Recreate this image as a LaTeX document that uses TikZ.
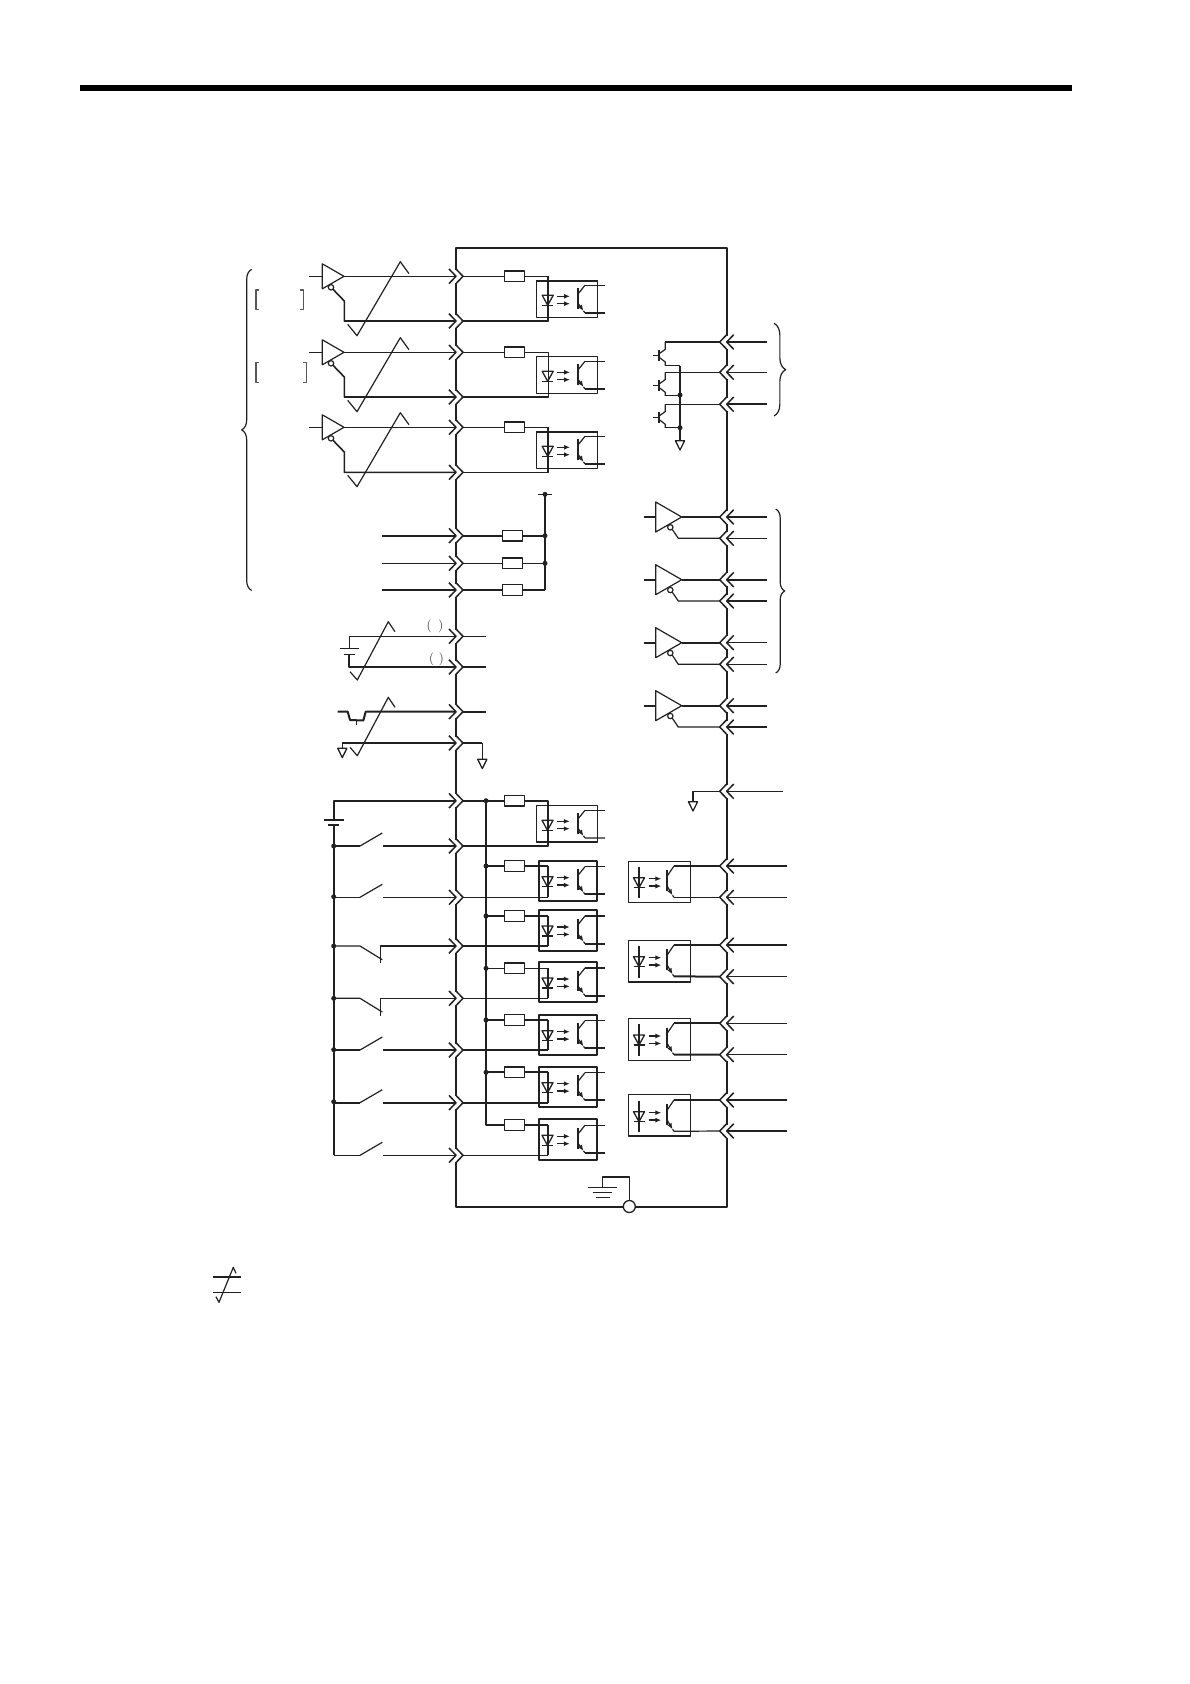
\documentclass[tikz,border=0pt]{standalone}
\usetikzlibrary{arrows.meta, decorations.pathreplacing}
\definecolor{ink}{gray}{0.13}
\tikzset{
	wire/.style={line width=1.2pt},
	heavy/.style={line width=2pt},
	res/.style={draw, rectangle, line width=1.3pt, minimum width=20pt, minimum height=10.6pt, inner sep=0pt, fill=white},
	dot/.style={circle, fill=ink, minimum size=5pt, inner sep=0pt},
	tip/.style={-{Latex[length=6pt, width=5pt]}},
	bracemark/.style={decorate, line width=1.2pt},
	pics/chevin/.style={code={
		\draw[white, line width=3pt] (0,-6.5) -- (0,6.5);
		\draw[line width=1.5pt] (-7,-7.3) -- (0,0) -- (-7,7.3) (0,-7.3) -- (7,0) -- (0,7.3);
		\coordinate (-ext) at (0,0);
		\coordinate (-in) at (7,0);
	}},
	pics/chevout/.style={code={
		\draw[white, line width=3pt] (0,-6.5) -- (0,6.5);
		\draw[line width=1.5pt] (7,-7.3) -- (0,0) -- (7,7.3) (0,-7.3) -- (-7,0) -- (0,7.3);
		\coordinate (-ext) at (0,0);
		\coordinate (-in) at (-7,0);
	}},
	pics/gnd/.style={code={
		\draw[line width=1.3pt] (-4.6,0) -- (4.6,0) -- (0,9.3) -- cycle;
	}},
	pics/led/.style={code={
		\draw[line width=1.3pt] (-5.5,-10) -- (5.5,-10) -- (0,0) -- cycle;
		\draw[line width=1.5pt] (-5.5,0) -- (5.5,0);
		\draw[tip, line width=1.4pt] (9.6,-9) -- (22.3,-9);
		\draw[tip, line width=1.4pt] (9.6,-1.6) -- (22.3,-1.6);
	}},
	pics/phototr/.style n args={2}{code={
		\draw[line width=1.7pt] (0,-17.4) -- (0,3.3);
		\draw (0,-11) -- (7.3,#1);
		\draw[tip] (0,-2.5) -- (5.8,#2-2);
		\draw (5.8,#2-2) -- (7.3,#2);
		\coordinate (-c) at (7.3,#1);
		\coordinate (-e) at (7.3,#2);
	}},
	pics/npn/.style={code={
		\draw (0,0) -- (0,7.3) -- (-6.6,12);
		\draw[line width=1.7pt] (-6.6,8) -- (-6.6,18.7);
		\draw (-12,13.3) -- (-6.6,13.3);
		\draw (-6.6,15) -- (0,20) -- (0,23.5);
		\coordinate (-e) at (0,23.5);
	}},
}
\begin{document}
\begin{tikzpicture}[x=1pt, y=-1pt, line width=1.2pt, color=ink, line join=round]
	\useasboundingbox (0,0) rectangle (1190,1684);
	\fill[black] (79.6,85) rectangle (1072,90.5);
	% unit frame
	\draw[line width=1.9pt] (456,248) -- (726.7,248) -- (726.7,1207) -- (456,1207) -- cycle;

	% line receivers with twisted pairs
	\foreach \n/\y/\z in {a/276.3/321, b/352.3/397, c/427.3/472.3} {
		\pic (\n1) at (456,\y) {chevin};
		\pic (\n2) at (456,\z) {chevin};
		\draw (309,\y) -- (322.3,\y);
		\draw (322.3,\y-12.5) -- (344,\y) -- (322.3,\y+12.5) -- cycle;
		\draw[fill=white] (331,\y+11) circle (2.7);
		\draw (344,\y) -- (\n1-ext);
		\draw[line width=1.6pt] (333,\y+13) -- (344.3,\y+24.7) -- (344.3,\z) -- (\n2-ext);
		\draw (347.7,\y+48) -- (357,\y+59.4) -- (400.3,\y-14.6) -- (409,\y-2.6);
		\node[res] (r\n) at (514.5,\y) {};
		\draw (\n1-in) -- (r\n);
		\draw (r\n) -- (548.3,\y) -- (548.3,\z) -- (\n2-in);
		\draw (536.3,\y+4.4) rectangle (597.7,\z-3.7);
		\pic at (547.7,\y+29) {led};
		\pic (t\n) at (577.7,\y+29) {phototr={-20}{7.6}};
		\draw (t\n-c) -- (605,\y+9);
		\draw[heavy] (t\n-e) -- (605,\y+36.6);
	}
	\draw[heavy] (536.3,280.7) -- (597.7,280.7) (548.3,276.3) -- (548.3,321);
	\draw[heavy] (548.3,427.3) -- (548.3,472.3) (536.3,431.7) -- (597.7,431.7);
	% group brace and brackets
	\draw[bracemark, decoration={brace, amplitude=10pt}] (251.7,590.5) -- (251.7,269.3);
	\draw[line width=1.3pt, ink!75] (259.3,290) -- (256,290) -- (256,309.3) -- (259.3,309.3);
	\draw[line width=1.3pt, ink!75] (300,290) -- (303.3,290) -- (303.3,309.3) -- (300,309.3);
	\draw[line width=1.3pt, ink!75] (259.3,362.7) -- (256,362.7) -- (256,382.3) -- (259.3,382.3);
	\draw[line width=1.3pt, ink!75] (303.3,362.7) -- (306.7,362.7) -- (306.7,382.3) -- (303.3,382.3);

	% resistor pull-ups
	\foreach \n/\y/\st in {1/535.7/heavy, 2/563.3/wire, 3/590/wire} {
		\pic (d\n) at (456,\y) {chevin};
		\node[res] (rd\n) at (512.3,\y) {};
		\draw[\st] (382,\y) -- (d\n-ext);
		\draw[\st] (d\n-in) -- (rd\n);
		\draw[\st] (rd\n) -- (545,\y);
	}
	\draw (538.3,494.3) -- (551.7,494.3);
	\draw[line width=1.7pt] (545,494.3) -- (545,590);
	\node[dot] (up0) at (545,494.3) {};
	\node[dot] (up1) at (545,535.7) {};
	\node[dot] (up2) at (545,563.3) {};

	% external supply pair
	\pic (e1) at (456,636.3) {chevin};
	\pic (e2) at (456,667) {chevin};
	\draw (349.3,648.3) -- (349.3,636.3) -- (e1-ext);
	\draw (340,648.3) -- (358.7,648.3);
	\draw (344,654.3) -- (354.7,654.3);
	\draw[heavy] (349.3,654.3) -- (349.3,667) -- (e2-ext);
	\draw (e1-in) -- (485.7,636.3);
	\draw[heavy] (e2-in) -- (485.7,667);
	\draw (350,671.7) -- (357.3,680) -- (388.3,621.7) -- (395,631.7);
	\node[text=ink, font=\fontsize{13}{15}\selectfont, inner sep=0pt] (pa) at (435,626.7) {(\hspace{7pt})};
	\node[text=ink, font=\fontsize{13}{15}\selectfont, inner sep=0pt] (pb) at (436.5,659) {(\hspace{4.7pt})};

	% pulse input
	\pic (f1) at (456,711.7) {chevin};
	\pic (f2) at (456,743) {chevin};
	\draw[heavy] (337.7,711.7) -- (347.7,711.7) -- (350,720) -- (363.3,720.5) -- (365.7,711.7) -- (f1-ext);
	\draw (356.7,720.5) -- (356.7,725);
	\draw[heavy] (f1-in) -- (485.7,711.7);
	\draw (342.3,748.3) -- (342.3,743);
	\draw[heavy] (342.3,743) -- (f2-ext);
	\draw[heavy] (f2-in) -- (482.3,743);
	\draw (482.3,743) -- (482.3,759.3);
	\pic at (342.3,748.3) {gnd};
	\pic at (482.3,759.3) {gnd};
	\draw (350,747.3) -- (357.3,755.7) -- (388.3,697.3) -- (395,707.3);

	% sequence inputs, first one with the supply
	\pic (g0) at (456,800.7) {chevin};
	\pic (g1) at (456,846) {chevin};
	\draw[heavy] (333.7,819.7) -- (333.7,800.7) -- (g0-ext);
	\draw[heavy] (324,819.7) -- (343.7,819.7);
	\draw (328.3,825) -- (339,825);
	\draw[heavy] (333.7,825) -- (333.7,1155.3);
	\draw[heavy] (g0-in) -- (486,800.7);
	\node[res] (rg1) at (514.5,800.7) {};
	\draw[heavy] (486,800.7) -- (rg1) (rg1) -- (548,800.7) -- (548,820);
	\draw (548,820) -- (548,846) -- (g1-in);
	\draw (536.7,805.3) rectangle (597.3,842);
	\draw[heavy] (536.7,842) -- (597.3,842);
	\pic at (547.5,830.3) {led};
	\pic (tg1) at (577.7,830.3) {phototr={-20}{7.6}};
	\draw (tg1-c) -- (605,810.3);
	\draw (tg1-e) -- (605,837.9);
	\foreach \n/\top/\u/\v/\bot/\tw/\st in {2/860.7/866/897.3/901.3/wire/wire, 3/910/916/946/950.7/heavy/wire, 4/962/968.3/998.3/1002/wire/wire, 5/1014.7/1020/1050/1054.7/wire/wire, 6/1066.7/1072.3/1102.7/1106.7/heavy/heavy, 7/1119.3/1125/1155.3/1160/heavy/wire} {
		\pic (g\n) at (456,\v) {chevin};
		\node[res] (rg\n) at (514.5,\u) {};
		\draw[\tw] (486,\u) -- (rg\n);
		\draw[\tw] (rg\n) -- (548,\u);
		\draw[line width=1.7pt] (548,\u) -- (548,\v);
		\draw[\st] (548,\v) -- (g\n-in);
		\draw[line width=1.7pt] (538.7,\top) rectangle (597.3,\bot);
		\pic at (547.5,\top+26) {led};
		\pic (tg\n) at (577.7,\top+26) {phototr={-20}{7.6}};
		\draw (tg\n-c) -- (605,\top+6);
		\draw[heavy] (tg\n-e) -- (605,\top+33.6);
	}
	\draw[line width=1.7pt] (486,800.7) -- (486,1125) -- (504.5,1125);
	\foreach \n/\y in {0/800.7, 2/866, 3/916, 4/968.3, 5/1020, 6/1072.3} {
		\node[dot] (bus\n) at (486,\y) {};
	}
	% switches, normally open
	\foreach \n/\y/\st in {1/846/wire, 2/897.3/wire, 5/1050/wire, 6/1102.7/heavy, 7/1155.3/wire} {
		\draw[\st] (333.7,\y) -- (360,\y);
		\draw (360,\y) -- (382.3,\y-13);
		\draw[\st] (383.3,\y) -- (g\n-ext);
	}
	% switches, normally closed
	\foreach \n/\y in {3/946, 4/998.3} {
		\draw (333.7,\y) -- (360,\y) -- (382.3,\y+13.7);
		\draw (380.7,\y+17.3) -- (380.7,\y) -- (g\n-ext);
	}
	\foreach \n/\y in {1/846, 2/896.7, 3/946, 4/998.3, 5/1049.7, 6/1101.7} {
		\node[dot] (rail\n) at (333.7,\y) {};
	}

	% open collector outputs
	\foreach \n/\y/\st in {1/342/heavy, 2/372.3/wire, 3/404.3/heavy} {
		\pic (r\n) at (726.7,\y) {chevout};
		\pic (q\n) at (665.3,\y) {npn};
		\draw (r\n-in) -- (665.3,\y);
		\draw[\st] (766.7,\y) -- (r\n-ext);
		\draw (q\n-e) -- (680,\y+23.5);
	}
	\draw[line width=1.7pt] (680,365.5) -- (680,440.7);
	\node[dot] (qd1) at (680,395) {};
	\node[dot] (qd2) at (680,427.7) {};
	\pic at (680,440.7) {gnd};
	\draw[bracemark, decoration={brace, amplitude=11.7pt}] (774,323.3) -- (774,416);

	% line drivers
	\foreach \n/\y/\z/\sa/\sb/\sd in {1/517/538.3/wire/heavy/wire, 2/579.7/601/heavy/heavy/wire, 3/642.7/664.3/heavy/wire/wire, 4/705.7/727/heavy/heavy/heavy} {
		\pic (s\n) at (726.7,\y) {chevout};
		\pic (v\n) at (726.7,\z) {chevout};
		\draw[\sa] (644.3,\y) -- (655.7,\y);
		\draw (655.7,\y-15) -- (681.7,\y) -- (655.7,\y+15) -- cycle;
		\draw[fill=white] (670.3,\y+10.3) circle (2.7);
		\draw[\sa] (681.7,\y) -- (s\n-in);
		\draw[\sb] (766.7,\y) -- (s\n-ext);
		\draw (672.3,\y+12.5) -- (678.3,\z) -- (v\n-in);
		\draw[\sd] (766.7,\z) -- (v\n-ext);
	}
	\draw[bracemark, decoration={brace, amplitude=9pt}] (775.7,509) -- (775.7,673);

	% terminal to ground
	\pic (w) at (726.7,791.3) {chevout};
	\draw (782.7,791.3) -- (w-ext);
	\draw (w-in) -- (693,791.3) -- (693,801.7);
	\pic at (693,801.7) {gnd};

	% output couplers
	\foreach \n/\top/\bot/\y/\z/\sa/\sb/\sc in {1/861.3/902.7/866/897.3/wire/wire/wire, 2/940.3/982/945/976.7/wire/heavy/heavy, 3/1018.3/1060.3/1023.3/1054.7/heavy/wire/heavy, 4/1094.3/1136/1100/1131/wire/heavy/wire} {
		\pic (x\n) at (726.7,\y) {chevout};
		\pic (y\n) at (726.7,\z) {chevout};
		\draw[line width=1.5pt] (628.3,\top) rectangle (690.3,\bot);
		\draw[line width=1.7pt] (639,\y+0.7) -- (639,\z+1);
		\pic at (639,\y+21.7) {led};
		\pic (tx\n) at (666.7,\y+21.7) {phototr={-21.7}{9.6}};
		\draw[\sa] (tx\n-c) -- (x\n-in);
		\draw[\sc] (tx\n-e) -- (y\n-in);
		\draw[\sb] (787.3,\y) -- (x\n-ext);
		\draw (787.3,\z) -- (y\n-ext);
	}

	% frame ground
	\node[circle, draw, line width=1.3pt, fill=white, minimum size=12pt, inner sep=0pt] (pe) at (629.3,1206.5) {};
	\draw (pe) -- (629.3,1177) -- (602.3,1177) -- (602.3,1187.3);
	\draw (588.3,1187.3) -- (616.7,1187.3);
	\draw[line width=1.5pt] (592.7,1192.7) -- (612.3,1192.7);
	\draw[line width=1.5pt] (595.7,1197.7) -- (610,1197.7);

	% twisted pair key
	\draw (213.3,1277) -- (240.7,1277);
	\draw (213.3,1292.3) -- (240.7,1292.3);
	\draw (216,1296.7) -- (219,1302.3) -- (233.3,1267.3) -- (236,1273.3);
\end{tikzpicture}
\end{document}
